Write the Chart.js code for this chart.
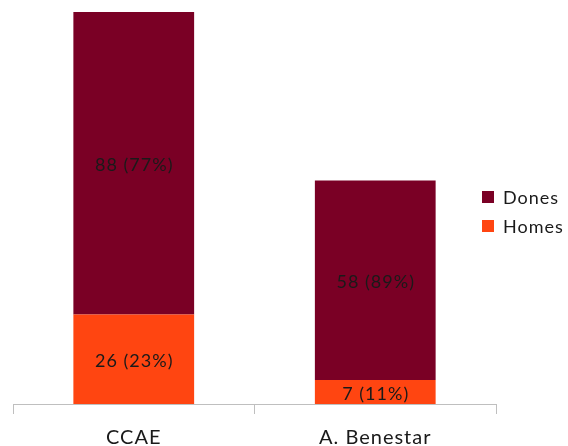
<!DOCTYPE html>
<html>
<head>
<meta charset="utf-8">
<script src="https://cdn.jsdelivr.net/npm/chart.js@4/dist/chart.umd.min.js"></script>
<style>
  html, body { margin: 0; padding: 0; background: #fff; }
  #wrap { width: 568px; height: 446px; }
</style>
</head>
<body>
<div id="wrap"><canvas id="grafic"></canvas></div>
<script>
// Dades
const categories = ['CCAE', 'A. Benestar'];
const homes = [26, 7];
const dones = [88, 58];
const colorHomes = '#FF4511';
const colorDones = '#7A0025';
const fontText = 'Lato, "Open Sans", sans-serif';

// una mica d'espaiat entre lletres, com al original
const espaiat = {
  id: 'espaiat',
  beforeDraw(chart) { chart.ctx.letterSpacing = '1px'; },
  afterDraw(chart) { chart.ctx.letterSpacing = '0px'; }
};

// etiquetes "n (x%)" dins de cada tram
const etiquetes = {
  id: 'etiquetes',
  afterDatasetsDraw(chart) {
    const ctx = chart.ctx;
    ctx.save();
    ctx.letterSpacing = '1px';
    ctx.font = '18px ' + fontText;
    ctx.fillStyle = '#1a1a1a';
    ctx.textAlign = 'center';
    ctx.textBaseline = 'middle';
    chart.data.datasets.forEach((ds, i) => {
      const meta = chart.getDatasetMeta(i);
      meta.data.forEach((bar, j) => {
        const total = homes[j] + dones[j];
        const valor = ds.data[j];
        const pct = Math.round(valor / total * 100);
        const yMig = (bar.y + bar.base) / 2;
        ctx.fillText(valor + ' (' + pct + '%)', bar.x + 0.5, yMig + 2);
      });
    });
    ctx.restore();
  }
};

// llegenda a la dreta
const llegenda = {
  id: 'llegenda',
  afterDraw(chart) {
    const ctx = chart.ctx;
    const items = [
      { text: 'Dones', color: colorDones },
      { text: 'Homes', color: colorHomes }
    ];
    ctx.save();
    ctx.letterSpacing = '1px';
    ctx.font = '18px ' + fontText;
    ctx.textBaseline = 'middle';
    ctx.textAlign = 'left';
    items.forEach((it, k) => {
      const y = 197 + k * 29;
      ctx.fillStyle = it.color;
      ctx.fillRect(482, y - 6, 12, 12);
      ctx.fillStyle = '#1a1a1a';
      ctx.fillText(it.text, 503, y + 1);
    });
    ctx.restore();
  }
};

new Chart(document.getElementById('grafic'), {
  type: 'bar',
  data: {
    labels: categories,
    datasets: [
      { label: 'Homes', data: homes, backgroundColor: colorHomes },
      { label: 'Dones', data: dones, backgroundColor: colorDones }
    ]
  },
  options: {
    responsive: true,
    maintainAspectRatio: false,
    animation: false,
    layout: { padding: { left: 13, right: 72, top: 12, bottom: 0 } },
    plugins: {
      legend: { display: false },
      tooltip: { enabled: false }
    },
    datasets: {
      bar: { categoryPercentage: 1, barPercentage: 0.5 }
    },
    scales: {
      x: {
        stacked: true,
        border: { display: true, color: '#bfbfbf', width: 1 },
        grid: {
          offset: true,
          drawOnChartArea: false,
          drawTicks: true,
          tickLength: 10,
          color: '#bfbfbf'
        },
        ticks: {
          color: '#1a1a1a',
          padding: 12,
          font: { family: fontText, size: 20 }
        },
        afterFit(scale) { scale.height = 42; }
      },
      y: {
        stacked: true,
        display: false,
        min: 0,
        max: 114
      }
    }
  },
  plugins: [espaiat, etiquetes, llegenda]
});
</script>
</body>
</html>
